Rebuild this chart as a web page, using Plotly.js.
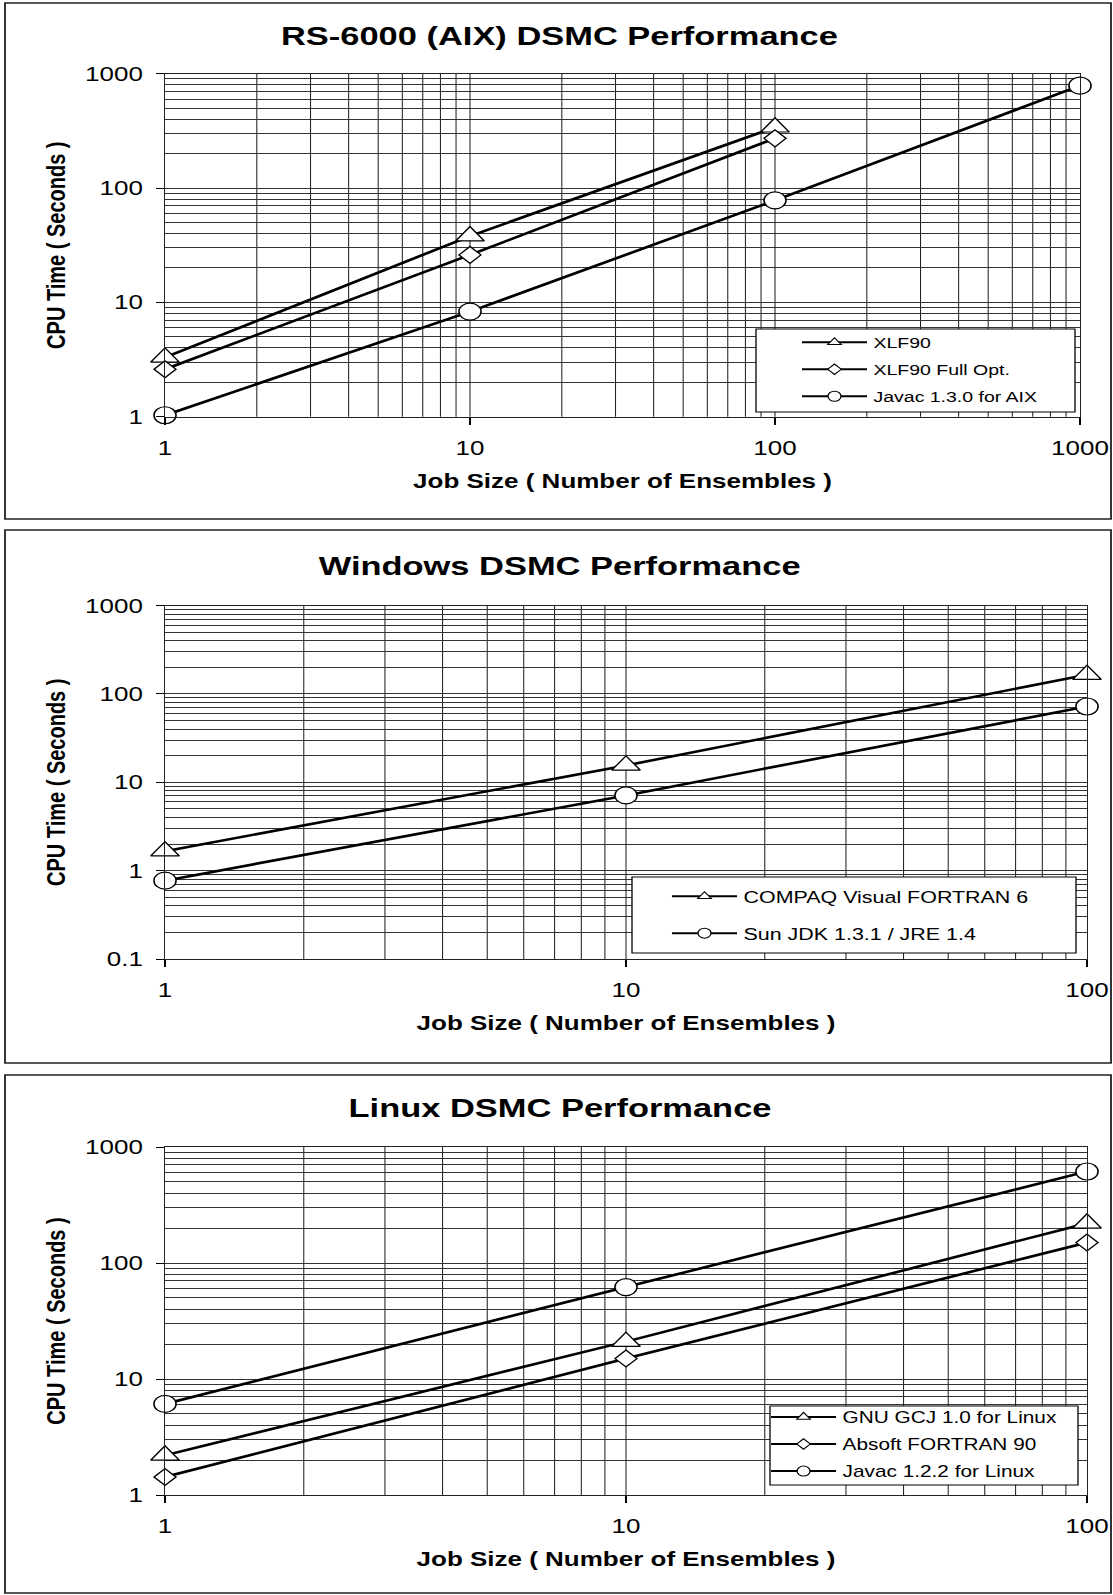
<!DOCTYPE html>
<html><head><meta charset="utf-8">
<script src="https://cdn.plot.ly/plotly-3.0.1.min.js"></script>
<style>
html,body{margin:0;padding:0;background:#fff;overflow:hidden;}
#chart{width:856px;height:1595px;transform:scaleX(1.30023);transform-origin:0 0;}
</style></head><body><div id="chart"></div>
<script>
// ---- data ----
const jobSizeAIX = [1, 10, 100];
const jobSizeAIXJava = [1, 10, 100, 1000];
const xlf90 = [3.3, 38, 340];
const xlf90FullOpt = [2.6, 26, 272];
const javacAIX = [1.03, 8.3, 78, 786];

const jobSizeWin = [1, 10, 100];
const compaqVF6 = [1.66, 15.5, 165];
const sunJDK = [0.77, 7.1, 72];

const jobSizeLinux = [1, 10, 100];
const gnuGCJ = [2.2, 21, 220];
const absoftF90 = [1.43, 15, 150];
const javacLinux = [6.1, 62, 615];

const panelTitles = ['RS-6000 (AIX) DSMC Performance', 'Windows DSMC Performance', 'Linux DSMC Performance'];
const xTitle = 'Job Size ( Number of Ensembles )';
const yTitle = 'CPU Time ( Seconds )';

// ---- geometry helpers (final page 1113 x 1595) ----
const W = 1113, H = 1595;
const fx = p => p / W;
const fy = p => 1 - p / H;
const FONT = 'Liberation Sans, Arial, Helvetica, sans-serif';

const symSize = {'triangle-up': 19, 'diamond': 13, 'circle': 17};
const legSize = {'triangle-up': 9, 'diamond': 8, 'circle': 10};

const series = [
  {name: 'XLF90', x: jobSizeAIX, y: xlf90, sym: 'triangle-up', p: 1},
  {name: 'XLF90 Full Opt.', x: jobSizeAIX, y: xlf90FullOpt, sym: 'diamond', p: 1},
  {name: 'Javac 1.3.0 for AIX', x: jobSizeAIXJava, y: javacAIX, sym: 'circle', p: 1},
  {name: 'COMPAQ Visual FORTRAN 6', x: jobSizeWin, y: compaqVF6, sym: 'triangle-up', p: 2},
  {name: 'Sun JDK 1.3.1 / JRE 1.4', x: jobSizeWin, y: sunJDK, sym: 'circle', p: 2},
  {name: 'GNU GCJ 1.0 for Linux', x: jobSizeLinux, y: gnuGCJ, sym: 'triangle-up', p: 3},
  {name: 'Absoft FORTRAN 90', x: jobSizeLinux, y: absoftF90, sym: 'diamond', p: 3},
  {name: 'Javac 1.2.2 for Linux', x: jobSizeLinux, y: javacLinux, sym: 'circle', p: 3}
];

const suffix = p => (p === 1 ? '' : String(p));
const traces = [];
series.forEach((s, i) => {
  traces.push({
    type: 'scatter', mode: 'lines+markers', name: s.name, cliponaxis: false,
    x: s.x, y: s.y, xaxis: 'x' + suffix(s.p), yaxis: 'y' + suffix(s.p),
    line: {color: '#000', width: 2.6},
    marker: {symbol: s.sym, size: symSize[s.sym], color: '#fff', line: {color: '#000', width: 1.2}},
    showlegend: false, hoverinfo: 'skip'
  });
});
// legend entries (small symbols like the reference legend)
series.forEach((s, i) => {
  traces.push({
    type: 'scatter', mode: 'lines+markers', name: s.name,
    x: [null], y: [null], xaxis: 'x' + suffix(s.p), yaxis: 'y' + suffix(s.p),
    legend: 'legend' + suffix(s.p), legendgroup: 'g' + i,
    line: {color: '#000', width: 2},
    marker: {symbol: s.sym, size: legSize[s.sym], color: '#fff', line: {color: '#000', width: 1}},
    showlegend: true, hoverinfo: 'skip'
  });
});

const gridC = '#333';
const vGridW = 0.8;
function xAxis(domain, range, anchor) {
  return {
    type: 'log', domain: domain, range: range, anchor: anchor, dtick: 1, exponentformat: 'none',
    showgrid: true, gridcolor: '#222', gridwidth: vGridW,
    minor: {dtick: 'D1', showgrid: true, gridcolor: '#222', gridwidth: vGridW, ticks: ''},
    showline: true, mirror: true, linecolor: '#222', linewidth: 1,
    ticks: 'outside', ticklen: 7, tickcolor: '#000', tickwidth: 1, ticklabelstandoff: 6,
    tickfont: {size: 20, family: FONT, color: '#000'}, zeroline: false, fixedrange: true,
    title: {text: '<b>' + xTitle + '</b>', font: {size: 20, family: FONT, color: '#000'}, standoff: 16}
  };
}
function yAxis(domain, range, anchor) {
  return {
    type: 'log', domain: domain, range: range, anchor: anchor, dtick: 1, exponentformat: 'none',
    showgrid: true, gridcolor: gridC, gridwidth: 1,
    minor: {dtick: 'D1', showgrid: true, gridcolor: gridC, gridwidth: 1, ticks: ''},
    showline: true, mirror: true, linecolor: '#222', linewidth: 1,
    ticks: 'outside', ticklen: 6, tickcolor: '#000', tickwidth: 1, ticklabelstandoff: 6,
    tickfont: {size: 20, family: FONT, color: '#000'}, zeroline: false, fixedrange: true,
    title: {text: '<b>' + yTitle + '</b>', font: {size: 20, family: FONT, color: '#000'}, standoff: 9}
  };
}

const xd1 = [fx(165), fx(1080)], xd23 = [fx(165), fx(1087)];
const yd1 = [fy(416.7), fy(73.7)], yd2 = [fy(959), fy(605.5)], yd3 = [fy(1495), fy(1147)];

function legendBox(x0, x1, y0, y1) {
  return {type: 'rect', xref: 'paper', yref: 'paper', x0: fx(x0), x1: fx(x1), y0: fy(y1), y1: fy(y0),
    fillcolor: '#fff', line: {color: '#000', width: 1}, layer: 'above'};
}
function panelBox(y0, y1) {
  return {type: 'rect', xref: 'paper', yref: 'paper', x0: fx(5), x1: fx(1111), y0: fy(y1), y1: fy(y0),
    fillcolor: 'rgba(0,0,0,0)', line: {color: '#222', width: 1.4}, layer: 'above'};
}
function legendCfg(xLeft, yTop, gap, fsize) {
  return {x: xLeft, y: yTop, xanchor: 'left', yanchor: 'top', bgcolor: 'rgba(0,0,0,0)', borderwidth: 0,
    itemwidth: 50,
    font: {size: fsize, family: FONT, color: '#000'}, traceorder: 'grouped', tracegroupgap: gap, itemclick: false, itemdoubleclick: false};
}
function titleAnn(text, yPix) {
  return {text: '<b>' + text + '</b>', xref: 'paper', yref: 'paper', x: fx(560), y: fy(yPix),
    xanchor: 'center', yanchor: 'middle', showarrow: false, font: {size: 26.5, family: FONT, color: '#000'}};
}

const shiftL = 20 / 856 - 3 / 1113;
const layout = {
  width: 856, height: 1595, margin: {l: 0, r: 0, t: 0, b: 0},
  paper_bgcolor: '#fff', plot_bgcolor: '#fff', font: {family: FONT, color: '#000'},
  showlegend: true,
  xaxis: xAxis(xd1, [0, 3], 'y'), yaxis: yAxis(yd1, [0, 3], 'x'),
  xaxis2: xAxis(xd23, [0, 2], 'y2'), yaxis2: yAxis(yd2, [-1, 3], 'x2'),
  xaxis3: xAxis(xd23, [0, 2], 'y3'), yaxis3: yAxis(yd3, [0, 3], 'x3'),
  legend: legendCfg(0.7354 - shiftL, fy(326), 4.5, 15),
  legend2: legendCfg(0.6186 - shiftL, fy(879), 12.5, 16.5),
  legend3: legendCfg(0.7076 - shiftL, fy(1400), 3.3, 16),
  shapes: [
    panelBox(3, 519), panelBox(530, 1063), panelBox(1075, 1593),
    legendBox(756, 1075, 329, 412), legendBox(632, 1076, 877, 953), legendBox(770, 1078, 1406, 1485)
  ],
  annotations: [titleAnn(panelTitles[0], 36), titleAnn(panelTitles[1], 566), titleAnn(panelTitles[2], 1108)]
};

Plotly.newPlot('chart', traces, layout, {displayModeBar: false, staticPlot: true});
</script></body></html>
